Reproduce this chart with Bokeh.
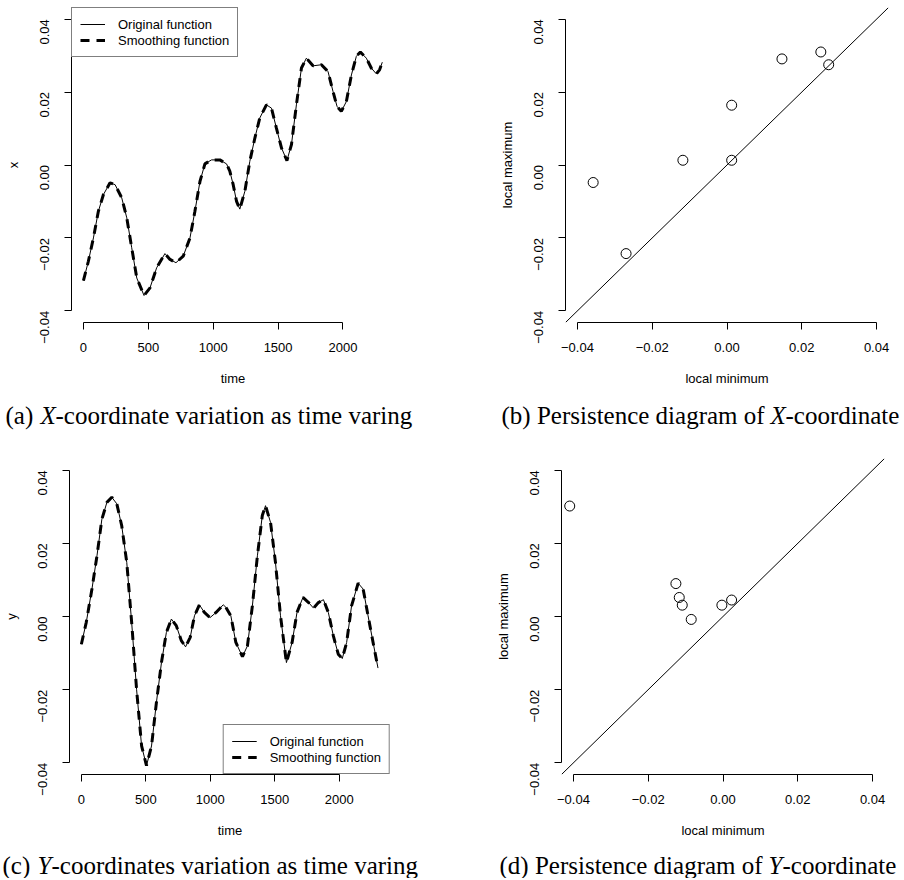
import math
from bokeh.plotting import figure
from bokeh.models import Range1d, FixedTicker, Slope, Legend, LegendItem
from bokeh.layouts import row, column
from bokeh.embed import file_html
from bokeh.resources import INLINE
from bokeh.core.properties import value

# ---------------- data ----------------
time_a = [0, 38, 77, 115, 154, 205, 244, 295, 334, 372, 411, 467, 513, 564, 628, 667, 713,
          769, 821, 859, 898, 936, 987, 1051, 1103, 1128, 1154, 1180, 1205, 1244, 1282, 1321,
          1359, 1410, 1449, 1487, 1526, 1568, 1603, 1641, 1680, 1718, 1769, 1834, 1885, 1923,
          1954, 1987, 2026, 2065, 2103, 2134, 2180, 2218, 2257, 2282, 2303]
x_orig = [-0.0317, -0.0264, -0.0200, -0.0127, -0.0081, -0.0049, -0.0054, -0.0090, -0.0145,
          -0.0227, -0.0310, -0.0358, -0.0337, -0.0282, -0.0243, -0.0259, -0.0268, -0.0250,
          -0.0200, -0.0127, -0.0045, 0.0003, 0.0014, 0.0014, 0.0003, -0.0017, -0.0054,
          -0.0100, -0.0121, -0.0072, 0.0010, 0.0074, 0.0129, 0.0165, 0.0156, 0.0101, 0.0047,
          0.0012, 0.0056, 0.0165, 0.0266, 0.0293, 0.0272, 0.0275, 0.0256, 0.0202, 0.0161,
          0.0147, 0.0174, 0.0247, 0.0298, 0.0310, 0.0293, 0.0266, 0.0250, 0.0261, 0.0282]
x_smooth = list(x_orig)

time_c = [0, 38, 82, 121, 159, 198, 236, 275, 313, 352, 390, 428, 467, 505, 544, 582, 621,
          659, 698, 736, 775, 808, 844, 877, 915, 954, 998, 1044, 1100, 1121, 1159, 1198,
          1249, 1288, 1326, 1365, 1403, 1428, 1467, 1505, 1544, 1590, 1634, 1672, 1718, 1762,
          1800, 1838, 1877, 1915, 1954, 1992, 2023, 2057, 2095, 2146, 2185, 2223, 2262, 2300]
y_orig = [-0.0076, -0.0016, 0.0075, 0.0166, 0.0266, 0.0312, 0.0326, 0.0308, 0.0248, 0.0148,
          -0.0016, -0.0199, -0.0354, -0.0408, -0.0354, -0.0235, -0.0126, -0.0044, -0.0007,
          -0.0025, -0.0066, -0.0083, -0.0057, 0.0002, 0.0032, 0.0011, -0.0003, 0.0011, 0.0032,
          0.0025, 0.0002, -0.0071, -0.0110, -0.0080, 0.0029, 0.0166, 0.0276, 0.0303, 0.0257,
          0.0148, 0.0002, -0.0126, -0.0071, 0.0011, 0.0052, 0.0038, 0.0023, 0.0038, 0.0046,
          0.0011, -0.0053, -0.0103, -0.0115, -0.0071, 0.0029, 0.0091, 0.0075, 0.0002, -0.0071,
          -0.0141]
y_smooth = list(y_orig)

pd_x_min = [-0.0358, -0.0270, -0.0118, 0.00125, 0.00125, 0.0147, 0.0251, 0.0272]
pd_x_max = [-0.0048, -0.0243, 0.0013, 0.0013, 0.0164, 0.0291, 0.0310, 0.0275]

pd_y_min = [-0.0410, -0.0126, -0.0117, -0.0109, -0.0085, -0.0003, 0.0023]
pd_y_max = [0.0302, 0.0090, 0.0052, 0.0031, -0.0008, 0.0031, 0.0045]

time_ticks = [0, 500, 1000, 1500, 2000]
time_tick_labels = ["0", "500", "1000", "1500", "2000"]
val_ticks = [-0.04, -0.02, 0.0, 0.02, 0.04]
val_tick_labels = ["\u22120.04", "\u22120.02", "0.00", "0.02", "0.04"]

legend_labels = ["Original function", "Smoothing function"]

caption_a = ["(a) ", "X", "-coordinate variation as time varing"]
caption_b = ["(b) Persistence diagram of ", "X", "-coordinate"]
caption_c = ["(c) ", "Y", "-coordinates variation as time varing"]
caption_d = ["(d) Persistence diagram of ", "Y", "-coordinate"]

# ---------------- styling ----------------
SANS = "Liberation Sans"
SERIF = "Liberation Serif"
FS = "13px"
CAP_FS = "25px"


def make_fig(width, height, left, right, top, bottom, xr, yr):
    p = figure(width=width, height=height, output_backend="svg", toolbar_location=None,
               x_range=Range1d(*xr), y_range=Range1d(*yr),
               min_border_left=left, min_border_right=right,
               min_border_top=top, min_border_bottom=bottom)
    p.outline_line_color = None
    p.grid.visible = False
    p.background_fill_color = "white"
    p.border_fill_color = "white"
    return p


def style_axes(p, xticks, xlabels, xlabel, ylabel):
    for ax, ticks, labels in ((p.xaxis[0], xticks, xlabels), (p.yaxis[0], val_ticks, val_tick_labels)):
        ax.ticker = FixedTicker(ticks=ticks)
        ax.major_label_overrides = dict(zip(ticks, labels))
        ax.bounds = (min(ticks), max(ticks))
        ax.minor_tick_line_color = None
        ax.major_tick_in = 0
        ax.major_tick_out = 7
        ax.axis_line_color = "black"
        ax.major_tick_line_color = "black"
        ax.major_label_text_font = SANS
        ax.major_label_text_font_size = FS
        ax.major_label_text_color = "black"
        ax.axis_label_text_font = SANS
        ax.axis_label_text_font_size = FS
        ax.axis_label_text_font_style = "normal"
        ax.axis_label_text_color = "black"
    p.xaxis.axis_label = xlabel
    p.yaxis.axis_label = ylabel
    p.xaxis.major_label_standoff = 13
    p.xaxis.axis_label_standoff = 16
    p.yaxis.major_label_standoff = 20
    p.yaxis.major_label_orientation = math.pi / 2
    p.yaxis.axis_label_standoff = 12


def add_curves(p, t, orig, smooth, loc):
    r1 = p.line(t, orig, line_color="black", line_width=1)
    r2 = p.line(t, smooth, line_color="black", line_width=3, line_dash="9 7")
    lg = Legend(items=[LegendItem(label=legend_labels[0], renderers=[r1]),
                       LegendItem(label=legend_labels[1], renderers=[r2])],
                location=loc, margin=0, padding=8, spacing=0, label_height=16, glyph_height=16,
                glyph_width=25, label_standoff=13, border_line_color="black", border_line_width=1,
                background_fill_color="white", background_fill_alpha=1.0,
                label_text_font=SANS, label_text_font_size=FS, label_text_color="black")
    p.add_layout(lg)


def caption_fig(height, captions, base):
    # one figure per caption row; x/y ranges equal the canvas size in pixels
    p = figure(width=902, height=height, output_backend="svg", toolbar_location=None,
               x_range=Range1d(0, 902), y_range=Range1d(0, height),
               x_axis_type=None, y_axis_type=None, min_border=0)
    p.outline_line_color = None
    p.grid.visible = False
    for parts, x0, offsets in captions:
        for txt, dx, style in zip(parts, offsets, ["normal", "italic", "normal"]):
            p.text(x=[x0 + dx], y=[base], text=[txt], text_font=value(SERIF),
                   text_font_size=CAP_FS, text_font_style=style, text_color="black",
                   text_baseline="alphabetic", text_align="left")
    return p


TPAD = (-92, 2397)
VPAD = (-0.0432, 0.0432)

# (a)
pa = make_fig(450, 395, 71, 56, 7, 73, TPAD, VPAD)
add_curves(pa, time_a, x_orig, x_smooth, "top_left")
style_axes(pa, time_ticks, time_tick_labels, "time", "x")

# (b)
pb = make_fig(450, 395, 115, 12, 7, 73, VPAD, VPAD)
pb.add_layout(Slope(gradient=1, y_intercept=0, line_color="black", line_width=1))
pb.scatter(pd_x_min, pd_x_max, size=10, fill_color=None, line_color="black", line_width=1)
style_axes(pb, val_ticks, val_tick_labels, "local minimum", "local maximum")

# (c)
pc = make_fig(450, 400, 67, 60, 18, 66, TPAD, VPAD)
add_curves(pc, time_c, y_orig, y_smooth, "bottom_right")
style_axes(pc, time_ticks, time_tick_labels, "time", "y")

# (d)
pd = make_fig(450, 400, 111, 16, 18, 66, VPAD, VPAD)
pd.add_layout(Slope(gradient=1, y_intercept=0, line_color="black", line_width=1))
pd.scatter(pd_y_min, pd_y_max, size=10, fill_color=None, line_color="black", line_width=1)
style_axes(pd, val_ticks, val_tick_labels, "local minimum", "local maximum")

cap_ab = caption_fig(45, [(caption_a, 5, [0, 35, 50]), (caption_b, 501, [0, 269, 284])], 24.8)
cap_cd = caption_fig(38, [(caption_c, 2, [0, 35, 49]), (caption_d, 499, [0, 269, 283])], 12.8)

layout = column(row(pa, pb), cap_ab, row(pc, pd), cap_cd)

open("out.html", "w").write(file_html(layout, INLINE))
